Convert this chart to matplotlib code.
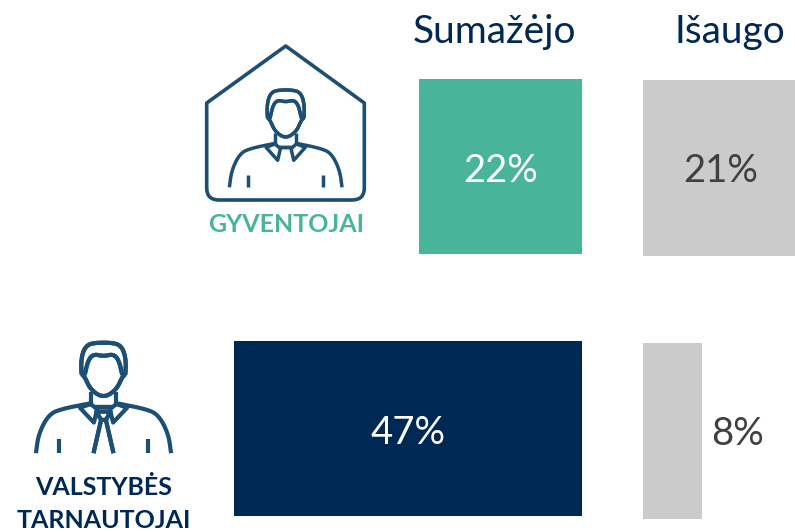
import numpy as np
import matplotlib
matplotlib.use('Agg')
import matplotlib.pyplot as plt
from matplotlib.patches import PathPatch
from matplotlib.path import Path

W, H = 795, 532
NAVY = '#002855'
GREEN = '#48B59A'
GRAY = '#CBCBCB'
TEXT_GRAY = '#404040'
ICON = '#1C4F73'

groups = ['GYVENTOJAI', 'VALSTYBĖS\nTARNAUTOJAI']
headers = ['Sumažėjo', 'Išaugo']
decreased = [22, 47]
increased = [21, 8]
decreased_colors = [GREEN, NAVY]
PX_PER_PCT = 7.4

plt.rcParams['font.family'] = ['Lato', 'DejaVu Sans']


def axes_px(fig, left, top, right, bottom):
    ax = fig.add_axes([left / W, 1 - bottom / H, (right - left) / W, (bottom - top) / H])
    ax.axis('off')
    return ax


def smooth(points, rounds=3):
    # corner cutting, keeps the two end points
    pts = np.array(points, dtype=float)
    for _ in range(rounds):
        q = 0.75 * pts[:-1] + 0.25 * pts[1:]
        r = 0.25 * pts[:-1] + 0.75 * pts[1:]
        mid = np.empty((len(q) * 2, 2))
        mid[0::2] = q
        mid[1::2] = r
        pts = np.vstack([pts[0], mid, pts[-1]])
    return pts


# person icon, in pixels of a 3x crop, relative to top centre of the head
HEAD = [(-55, 85), (-48, 88), (-32, 125), (0, 146), (32, 125), (48, 88), (55, 85),
        (56, 45), (48, 14), (30, 0), (-30, 0), (-48, 14), (-56, 45), (-55, 85)]
HAIR = [(-47, 85), (-38, 45), (-24, 30), (0, 36), (24, 30), (38, 45), (47, 85)]
SHOULDER = [(-169, 292), (-162, 240), (-137, 190), (-105, 175), (-32, 160)]
COLLAR = [(-32, 162), (-59, 172), (-24, 211), (-16, 176), (-32, 162)]
ARM = [(-112, 255), (-112, 292)]
NECK = [(-32, 130), (-32, 162)]
NECK_LINE = [(-22, 170), (22, 170)]
TIE_KNOT = [(-18, 182), (18, 182), (6, 204), (-6, 204), (-18, 182)]
TIE_LEFT = [(-6, 204), (-25, 292)]
TIE_RIGHT = [(6, 204), (25, 292)]


def draw_person(ax, cx, top, sx, sy, lw, tie=False):
    def stroke(points, curved=False):
        pts = smooth(points) if curved else np.array(points, dtype=float)
        for sign in (1, -1):
            ax.plot(cx + sign * pts[:, 0] * sx / 3, top + pts[:, 1] * sy / 3, color=ICON,
                    lw=lw, solid_capstyle='butt', solid_joinstyle='round')

    stroke(HEAD, True)
    stroke(HAIR, True)
    stroke(SHOULDER, True)
    stroke(COLLAR)
    stroke(ARM)
    stroke(NECK)
    stroke(NECK_LINE)
    if tie:
        stroke(TIE_KNOT)
        stroke(TIE_LEFT)
        stroke(TIE_RIGHT)


def draw_house(ax):
    verts = [(285.7, 46), (364.3, 103), (364.3, 188), (364.3, 200), (352, 200),
             (219, 200), (206.7, 200), (206.7, 188), (206.7, 103), (285.7, 46)]
    codes = [Path.MOVETO, Path.LINETO, Path.LINETO, Path.CURVE3, Path.CURVE3,
             Path.LINETO, Path.CURVE3, Path.CURVE3, Path.LINETO, Path.CLOSEPOLY]
    ax.add_patch(PathPatch(Path(verts, codes), fc='none', ec=ICON, lw=2.6, joinstyle='round'))


fig = plt.figure(figsize=(W / 100, H / 100), dpi=100, facecolor='white')

# left bars grow leftwards from x=582
ax_left = axes_px(fig, 0, 79, 582, 516)
y = np.arange(len(decreased))
ax_left.barh(y, decreased, height=0.668, color=decreased_colors)
ax_left.set_xlim(582 / PX_PER_PCT, 0)
ax_left.set_ylim(1.334, -0.334)
for i, v in enumerate(decreased):
    ax_left.text(v / 2, i + 0.016, f'{v}%', color='white', fontsize=27.5, ha='center', va='center')

# right bars run off the edge of the picture
ax_right = axes_px(fig, 643, 80, 795, 519)
ax_right.barh(y, increased, height=0.669, color=GRAY)
ax_right.set_xlim(0, 152 / PX_PER_PCT)
ax_right.set_ylim(1.334, -0.334)
for i, v in enumerate(increased):
    x_label = v / 2 if v > 10 else v + 4.8
    ax_right.text(x_label, i + 0.012, f'{v}%', color=TEXT_GRAY, fontsize=27.5, ha='center', va='center')

# overlay in picture pixels for icons and labels
ov = axes_px(fig, 0, 0, W, H)
ov.set_xlim(0, W)
ov.set_ylim(H, 0)
ov.patch.set_alpha(0)

ov.text(494, 32, headers[0], color=NAVY, fontsize=28, ha='center', va='center')
ov.text(730, 32, headers[1], color=NAVY, fontsize=28, ha='center', va='center')

draw_house(ov)
draw_person(ov, 285.7, 90, 1, 1, 2.5)
draw_person(ov, 103.5, 342.7, 1.2, 1.135, 3.0, tie=True)

ov.text(286.5, 225, groups[0], color=GREEN, fontsize=18, fontweight='bold', ha='center', va='center')
ov.text(103.5, 504, groups[1], color=NAVY, fontsize=18, fontweight='bold', ha='center', va='center',
        linespacing=1.55)

fig.savefig('out.png', dpi=100)
